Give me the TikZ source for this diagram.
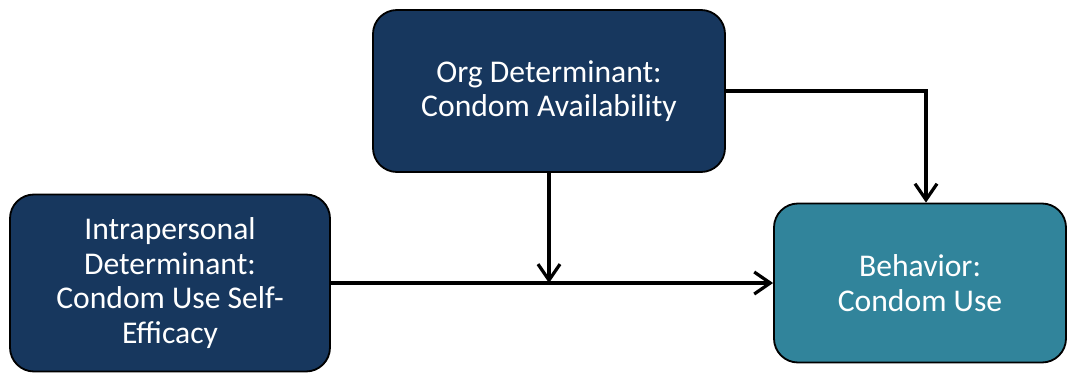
\documentclass[tikz,border=0pt]{standalone}
\usepackage{fontspec}
\setmainfont{Carlito}
\usepackage{tikz}
\usetikzlibrary{arrows.meta}
\definecolor{navybox}{HTML}{17375E}
\definecolor{tealbox}{HTML}{31849B}
\tikzset{
  detbox/.style={draw=black, line width=1.3pt, rounded corners=0.6cm, fill=navybox,
    text=white, align=center, font=\fontsize{22.5}{24.5}\selectfont},
  arr/.style={-{Straight Barb[length=4mm,width=5.5mm]}, line width=2.3pt}
}

\begin{document}
\begin{tikzpicture}
      \useasboundingbox (-13.725,2.275) rectangle (12.95,-7.075);
      \node [detbox, minimum width=8.8cm, minimum height=4.05cm] (1)
            {Org Determinant:\\Condom Availability};
      \node [detbox, below of=1, yshift=-3.8cm, xshift=-9.475cm,
             minimum width=8cm, minimum height=4.425cm] (2)
            {Intrapersonal\\Determinant:\\Condom Use Self-\\Efficacy};
      \node [detbox, fill=tealbox, below of=1, yshift=-3.8cm, xshift=9.275cm,
             minimum width=7.3cm, minimum height=3.975cm] (3)
            {Behavior:\\Condom Use};
      \coordinate (4) at (1.south |- 2.east);

      \draw[arr] (2.east) -- (3.west);
      \draw[arr] (1.south) -- (4);
      \draw[arr] (1.east) -| ([xshift=0.15cm]3.north);
    \end{tikzpicture}
\end{document}
